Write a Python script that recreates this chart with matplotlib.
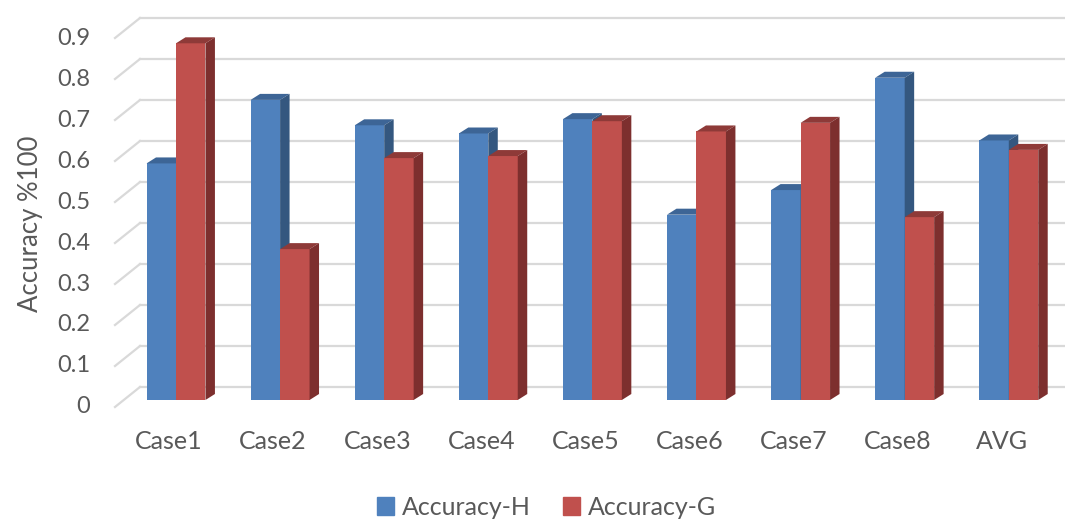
import matplotlib.pyplot as plt
from matplotlib.patches import Polygon, Patch

plt.rcParams['font.family'] = ['Lato', 'DejaVu Sans']

# Chart data
cases = ['Case1', 'Case2', 'Case3', 'Case4', 'Case5', 'Case6', 'Case7', 'Case8', 'AVG']
acc_h = [0.577, 0.732, 0.670, 0.650, 0.685, 0.452, 0.512, 0.786, 0.633]
acc_g = [0.870, 0.368, 0.590, 0.595, 0.680, 0.655, 0.676, 0.446, 0.610]
yticks = [0, 0.1, 0.2, 0.3, 0.4, 0.5, 0.6, 0.7, 0.8, 0.9]
yticklabels = ['0', '0.1', '0.2', '0.3', '0.4', '0.5', '0.6', '0.7', '0.8', '0.9']

# Fake 3D look: oblique offsets in data units
W = 0.283                      # width of one bar
BAR_DX, BAR_DY = 0.091, 0.0146  # bar depth
BACK_DX, BACK_DY = 0.156, 0.0317   # back wall relative to bar plane
FRONT_DX, FRONT_DY = -0.084, -0.0171  # front floor edge
WALL_X = -0.502                # left wall position in bar plane

text_col = '#595959'
grid_col = '#D9D9D9'
blue = ('#4F81BD', '#3D6596', '#34577F')   # front, top, side
red = ('#C0504D', '#8E3A38', '#7D2F2E')

fig = plt.figure(figsize=(10.65, 5.22), dpi=100)
ax = fig.add_axes([0, 0, 1, 1])
ax.set_xlim(-1.6907, 8.540)
ax.set_ylim(-0.2976, 0.9756)
ax.axis('off')

# walls: horizontal grid on back wall, diagonals on the left wall
x_back = WALL_X + BACK_DX
x_front = WALL_X + FRONT_DX
for v in yticks:
    ax.plot([x_back, 8.6], [v + BACK_DY, v + BACK_DY], color=grid_col, lw=1.6, zorder=1)
    ax.plot([x_front, x_back], [v + FRONT_DY, v + BACK_DY], color=grid_col, lw=1.6, zorder=1)


def bar3d(x, h, cols):
    front, top, side = cols
    ax.bar(x, h, W, color=front, zorder=3, linewidth=0)
    xl, xr = x - W / 2, x + W / 2
    ax.add_patch(Polygon([(xl, h), (xr, h), (xr + BAR_DX, h + BAR_DY), (xl + BAR_DX, h + BAR_DY)],
                         closed=True, facecolor=top, edgecolor='none', zorder=3))
    ax.add_patch(Polygon([(xr, 0), (xr, h), (xr + BAR_DX, h + BAR_DY), (xr + BAR_DX, BAR_DY)],
                         closed=True, facecolor=side, edgecolor='none', zorder=3))


for i in range(len(cases)):
    bar3d(i - W / 2, acc_h[i], blue)
    bar3d(i + W / 2, acc_g[i], red)

# tick labels
for v, lab in zip(yticks, yticklabels):
    ax.text(-0.826, v + FRONT_DY, lab, ha='right', va='center', fontsize=17, color=text_col)
for i, lab in enumerate(cases):
    ax.text(i - 0.067, -0.1024, lab, ha='center', va='center', fontsize=18, color=text_col)

ax.text(-1.4025, 0.43, 'Accuracy %100', rotation=90, ha='center', va='center',
        fontsize=18.5, color=text_col)

handles = [Patch(color=blue[0], label='Accuracy-H'), Patch(color=red[0], label='Accuracy-G')]
fig.legend(handles=handles, loc='center', bbox_to_anchor=(0.513, 0.028), ncol=2,
           frameon=False, fontsize=18, labelcolor=text_col, handlelength=0.7,
           handleheight=0.7, handletextpad=0.3, columnspacing=1.3,
           borderpad=0.1)

fig.savefig('out.png', dpi=100)
